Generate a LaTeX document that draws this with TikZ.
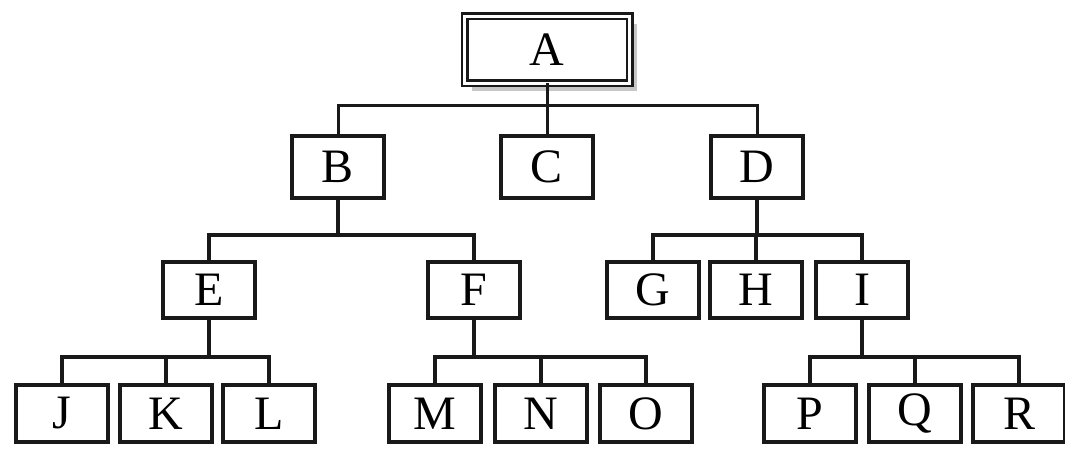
\documentclass[tikz,border=0pt]{standalone}
\usepackage{fontspec}
\setmainfont{Liberation Serif}
\usetikzlibrary{shadows}
\begin{document}
\begin{tikzpicture}[x=1pt,y=-1pt,
  box/.style={draw=black!90,line width=3.5pt,rectangle,minimum width=92pt,inner sep=0pt,fill=white,
    font=\fontsize{48}{48}\selectfont},
  row2/.style={box,minimum height=62pt},
  row3/.style={box,minimum height=56pt},
  row4/.style={box,minimum height=57pt},
  conn/.style={draw=black!90,line width=3.5pt,line cap=rect}]
\useasboundingbox (0,0) rectangle (1065,453);
% root
\node[box,minimum width=165pt,minimum height=67pt,line width=2.5pt,double,double distance=3pt,
  drop shadow={shadow xshift=7pt,shadow yshift=-8pt,fill=black!22,opacity=1}] (A) at (547,49.5) {A};
% level 2
\node[row2] (B) at (338,167) {B};
\node[row2] (C) at (547,167) {C};
\node[row2] (D) at (757,167) {D};
% level 3
\node[row3] (E) at (209,290) {E};
\node[row3] (F) at (474,290) {F};
\node[row3] (G) at (653,290) {G};
\node[row3] (H) at (756,290) {H};
\node[row3] (I) at (862,290) {I};
% level 4
\node[row4] (J) at (62,413.5) {J};
\node[row4] (K) at (166,413.5) {K};
\node[row4] (L) at (269,413.5) {L};
\node[row4] (M) at (435,413.5) {M};
\node[row4] (N) at (541,413.5) {N};
\node[row4] (O) at (646,413.5) {O};
\node[row4] (P) at (810,413.5) {P};
\node[row4] (Q) at (915,413.5) {Q};
\node[row4] (R) at (1019,413.5) {R};
% connectors
\draw[conn,line width=3pt] (A.south) -- (C.north);
\draw[conn,line width=3pt,line cap=butt] (B.north) -- (B.north |- 0,105) -- (D.north |- 0,105) -- (D.north);
\draw[conn] (B.south) -- (B.south |- 0,235);
\draw[conn,line cap=butt] (E.north) -- (E.north |- 0,235) -- (F.north |- 0,235) -- (F.north);
\draw[conn] (D.south) -- (D.south |- 0,235);
\draw[conn,line cap=butt] (G.north) -- (G.north |- 0,235) -- (I.north |- 0,235) -- (I.north);
\draw[conn] (H.north) -- (H.north |- 0,235);
\draw[conn] (E.south) -- (E.south |- 0,357);
\draw[conn,line cap=butt] (J.north) -- (J.north |- 0,357) -- (L.north |- 0,357) -- (L.north);
\draw[conn] (K.north) -- (K.north |- 0,357);
\draw[conn] (F.south) -- (F.south |- 0,357);
\draw[conn,line cap=butt] (M.north) -- (M.north |- 0,357) -- (O.north |- 0,357) -- (O.north);
\draw[conn] (N.north) -- (N.north |- 0,357);
\draw[conn] (I.south) -- (I.south |- 0,357);
\draw[conn,line cap=butt] (P.north) -- (P.north |- 0,357) -- (R.north |- 0,357) -- (R.north);
\draw[conn] (Q.north) -- (Q.north |- 0,357);
\end{tikzpicture}
\end{document}
